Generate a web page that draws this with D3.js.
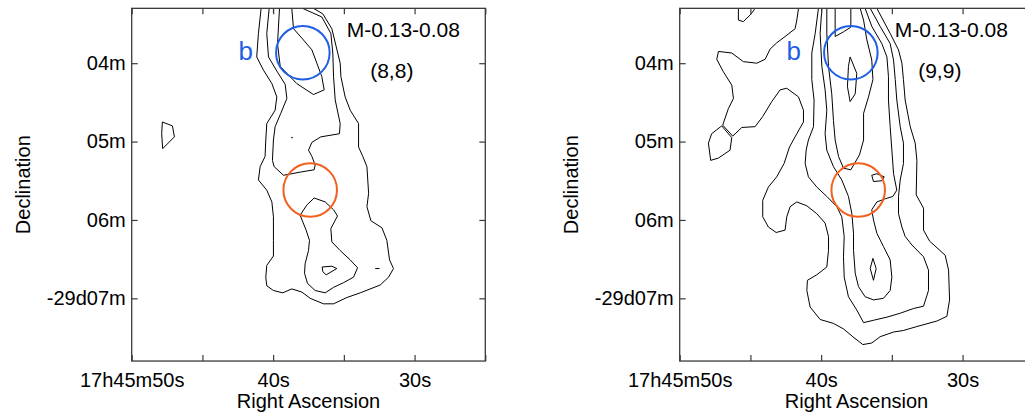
<!DOCTYPE html>
<html>
<head>
<meta charset="utf-8">
<script src="https://cdn.jsdelivr.net/npm/d3@7"></script>
<style>
  html, body { margin: 0; padding: 0; background: #fff; }
  svg { display: block; font-family: "Liberation Sans", Arial, Helvetica, sans-serif; }
</style>
</head>
<body>
<svg id="chart" width="1025" height="417"></svg>
<script>
// Axis ticks: right ascension seconds (17h45m..s) and declination minutes (-29d..m)
const raTicks = [50, 45, 40, 35, 30, 25];
const raTickLabels = {50: "17h45m50s", 40: "40s", 30: "30s"};
const decTicks = [4, 5, 6, 7];
const decTickLabels = {4: "04m", 5: "05m", 6: "06m", 7: "-29d07m"};
const raDomain = [50, 25];
const decDomain = [3.3, 7.8];

// Panel titles
const sourceName = "M-0.13-0.08";
const panelTags = ["(8,8)", "(9,9)"];

// Apertures: [RA s, Dec min], radius in arcsec
const apertureB = [37.9, 3.866];
const apertureLow = [37.38, 5.619];
const apertureRadius = 20.5;
const labelB = [42.45, 3.96];

// ---- Contours, left panel (8,8): [RA s, Dec min] ----
const left8Outer = [[40.85,3.30],[41.04,3.62],[41.16,3.92],[40.68,4.09],[40.09,4.26],[39.74,4.43],[39.86,4.60],[40.45,4.77],[40.52,4.98],[40.57,5.19],[40.92,5.32],[41.04,5.49],[40.45,5.62],[40.09,5.77],[39.98,5.96],[39.98,6.26],[39.98,6.46],[40.45,6.58],[40.52,6.73],[40.45,6.84],[39.98,6.90],[39.32,6.93],[38.68,6.88],[37.97,6.92],[37.38,7.00],[36.44,7.07],[35.73,7.07],[34.79,6.99],[33.84,6.93],[32.43,6.83],[31.84,6.73],[31.49,6.62],[31.77,6.51],[31.96,6.26],[32.31,6.10],[33.09,6.01],[33.37,5.83],[33.25,5.66],[33.37,5.32],[33.66,5.19],[33.96,5.07],[33.96,4.77],[34.55,4.60],[34.91,4.43],[35.21,4.17],[35.26,4.00],[35.54,3.79],[35.85,3.56],[36.49,3.37],[37.15,3.30]];
const left8Middle = [[40.28,3.30],[40.45,3.62],[40.33,3.92],[39.74,4.10],[39.15,4.27],[39.03,4.45],[39.46,4.64],[39.86,4.81],[39.98,4.98],[40.05,5.24],[39.93,5.32],[39.27,5.43],[38.09,5.39],[37.10,5.36],[37.03,5.30],[37.26,5.19],[37.50,5.11],[37.26,5.01],[36.63,4.94],[35.31,4.90],[35.26,4.77],[35.61,4.47],[35.73,4.17],[35.78,3.87],[35.92,3.62],[36.56,3.41],[37.92,3.30]];
const left8Inner = [[39.55,3.30],[39.69,3.75],[39.50,4.04],[38.33,4.26],[37.15,4.40],[36.39,4.34],[36.56,4.17],[36.91,4.00],[37.26,3.83],[37.97,3.68],[38.56,3.56],[38.68,3.30]];
const left8Low = [[38.09,5.94],[37.62,5.81],[37.10,5.72],[36.32,5.77],[35.73,5.87],[35.45,5.95],[35.92,6.11],[35.85,6.28],[35.26,6.39],[34.55,6.51],[34.03,6.61],[34.32,6.73],[35.02,6.80],[35.73,6.86],[36.32,6.93],[37.03,6.90],[37.57,6.81],[37.78,6.68],[37.74,6.56],[37.50,6.39],[37.43,6.26],[37.67,6.13]];
const left8Peak = [[36.53,6.60],[35.85,6.59],[35.50,6.62],[36.25,6.70],[36.49,6.66]];
const left8Dash = [[32.78,6.62],[32.48,6.62]];
const left8Dot = [[38.73,4.95],[38.61,4.95]];
const left8Edge = [[39.98,3.30],[39.98,3.36]];
const left8West = [[47.83,4.75],[47.12,4.80],[46.98,4.94],[47.81,5.09],[47.88,4.90]];

// ---- Contours, right panel (9,9): [RA s, Dec min] ----
const right9Corner = [[45.85,3.30],[45.85,3.45],[45.50,3.47],[45.02,3.385],[44.74,3.32],[44.72,3.30]];
const right9Outer = [[41.60,3.30],[41.72,3.45],[41.84,3.56],[42.55,3.66],[43.14,3.74],[43.61,3.82],[43.96,3.95],[44.55,4.00],[45.50,3.98],[46.32,3.87],[47.26,3.85],[47.38,3.95],[46.91,4.11],[46.32,4.28],[46.20,4.45],[46.56,4.58],[46.96,4.79],[46.25,4.93],[45.61,4.82],[44.67,4.81],[44.13,4.68],[43.49,4.49],[42.90,4.34],[42.43,4.32],[41.60,4.43],[41.25,4.60],[41.25,4.75],[41.72,4.90],[42.24,5.07],[42.62,5.28],[43.14,5.45],[43.73,5.58],[44.13,5.75],[44.13,5.96],[43.73,6.09],[43.18,6.16],[42.55,6.13],[42.43,5.96],[42.19,5.83],[41.72,5.77],[41.01,5.82],[40.31,5.92],[39.72,6.04],[39.48,6.21],[39.48,6.39],[39.60,6.60],[40.31,6.70],[40.97,6.77],[41.01,6.90],[40.78,7.11],[40.07,7.27],[39.13,7.32],[38.42,7.39],[37.76,7.49],[37.05,7.59],[36.42,7.57],[35.83,7.49],[34.88,7.43],[34.18,7.41],[33.23,7.36],[31.82,7.29],[31.11,7.23],[30.92,7.02],[30.99,6.64],[31.23,6.45],[32.33,6.27],[32.76,6.13],[32.76,5.85],[33.28,5.68],[33.23,5.24],[33.35,5.02],[33.70,4.81],[34.06,4.47],[34.18,4.21],[34.29,4.00],[34.53,3.83],[35.12,3.62],[36.06,3.30]];
const right9West = [[47.03,4.80],[47.74,4.90],[47.97,5.02],[47.81,5.24],[47.26,5.21],[46.44,5.11],[46.32,4.95]];
const right9Second = [[40.19,3.30],[40.42,3.62],[40.66,3.87],[40.66,4.21],[40.50,4.47],[40.54,4.81],[40.90,4.98],[41.06,5.11],[41.13,5.28],[40.90,5.45],[40.31,5.58],[39.60,5.70],[38.89,5.83],[38.54,5.96],[38.37,6.21],[38.42,6.47],[38.37,6.73],[38.07,6.98],[37.48,7.15],[37.00,7.31],[36.30,7.28],[35.35,7.24],[34.41,7.19],[33.47,7.13],[32.76,7.10],[32.41,6.90],[32.41,6.64],[32.76,6.47],[33.58,6.32],[34.06,6.21],[34.29,6.09],[34.53,5.92],[34.53,5.70],[34.41,5.49],[34.18,5.28],[34.18,5.02],[34.41,4.81],[34.65,4.47],[34.76,4.21],[34.88,3.96],[35.12,3.75],[35.83,3.53],[36.53,3.30]];
const right9Third = [[39.95,3.30],[40.07,3.62],[39.95,4.04],[39.72,4.34],[39.60,4.60],[39.72,4.90],[39.60,5.11],[39.13,5.32],[38.54,5.49],[38.07,5.70],[37.83,5.92],[37.71,6.17],[37.71,6.39],[37.59,6.68],[37.36,6.85],[36.89,6.98],[36.30,7.02],[35.59,7.00],[35.12,6.90],[35.00,6.73],[35.12,6.51],[35.59,6.34],[36.06,6.17],[36.30,6.00],[36.42,5.87],[36.06,5.77],[35.47,5.73],[34.93,5.70],[34.65,5.62],[34.88,5.41],[35.00,5.11],[35.12,4.81],[35.24,4.47],[35.24,4.17],[35.35,3.92],[35.71,3.75],[36.42,3.53],[36.89,3.30]];
const right9Fourth = [[39.60,3.30],[39.60,3.62],[39.48,4.04],[39.25,4.39],[39.13,4.73],[39.01,4.98],[38.77,5.19],[38.42,5.34],[37.90,5.36],[37.29,5.17],[37.00,4.98],[37.00,4.64],[36.65,4.43],[36.34,4.21],[36.42,3.96],[36.77,3.70],[37.00,3.45],[37.24,3.30]];
const right9Fifth = [[39.01,3.30],[39.01,3.66],[38.42,3.60],[37.90,3.54],[37.90,3.30]];
const right9PeakB = [[37.95,3.92],[37.48,4.13],[37.59,4.39],[37.95,4.49],[38.14,4.30],[38.07,4.04]];
const right9PeakLow = [[36.34,6.49],[36.11,6.62],[36.30,6.77],[36.53,6.62]];
const right9Knot = [[36.42,5.43],[36.06,5.41],[35.54,5.45],[35.71,5.50],[36.30,5.51]];

const panels = [
  {
    x0: 131.7, tag: panelTags[0],
    open: [left8Outer, left8Middle, left8Inner, left8Dash, left8Dot, left8Edge],
    closed: [left8Low, left8Peak, left8West]
  },
  {
    x0: 679.7, tag: panelTags[1],
    open: [right9Corner, right9Outer, right9Second, right9Third, right9Fourth, right9Fifth],
    closed: [right9West, right9PeakB, right9PeakLow, right9Knot]
  }
];

const W = 353.6, H = 352.7, panelTop = 8.33;
const blue = "#1f5fe6", orange = "#f2601c", frameColor = "#3a3a3a";

const svg = d3.select("#chart");
const x = d3.scaleLinear().domain(raDomain).range([0, W]);
const y = d3.scaleLinear().domain(decDomain).range([0, H]);
const pxPerArcsec = (y(decDomain[0] + 1) - y(decDomain[0])) / 60;

const lineOpen = d3.line().x(d => x(d[0])).y(d => y(d[1])).curve(d3.curveLinear);
const lineClosed = d3.line().x(d => x(d[0])).y(d => y(d[1])).curve(d3.curveLinearClosed);

panels.forEach((p, i) => {
  const g = svg.append("g").attr("transform", `translate(${p.x0},${panelTop})`);
  const clipId = "clip" + i;
  g.append("clipPath").attr("id", clipId)
    .append("rect").attr("width", W).attr("height", H);

  const plot = g.append("g").attr("clip-path", `url(#${clipId})`);

  plot.selectAll("path.open").data(p.open).join("path")
    .attr("class", "open")
    .attr("d", lineOpen)
    .attr("fill", "none").attr("stroke", "#000").attr("stroke-width", 1)
    .attr("stroke-linejoin", "round");
  plot.selectAll("path.closed").data(p.closed).join("path")
    .attr("class", "closed")
    .attr("d", lineClosed)
    .attr("fill", "none").attr("stroke", "#000").attr("stroke-width", 1)
    .attr("stroke-linejoin", "round");

  // Apertures
  plot.append("circle")
    .attr("cx", x(apertureB[0])).attr("cy", y(apertureB[1]))
    .attr("r", apertureRadius * pxPerArcsec)
    .attr("fill", "none").attr("stroke", blue).attr("stroke-width", 2);
  plot.append("circle")
    .attr("cx", x(apertureLow[0])).attr("cy", y(apertureLow[1]))
    .attr("r", apertureRadius * pxPerArcsec)
    .attr("fill", "none").attr("stroke", orange).attr("stroke-width", 2);

  g.append("text")
    .attr("x", x(labelB[0])).attr("y", y(labelB[1]))
    .attr("fill", blue).attr("font-size", 26)
    .text("b");

  // Axes with inward ticks
  const axB = d3.axisBottom(x).tickValues(raTicks).tickSize(-6).tickPadding(12)
    .tickFormat(d => raTickLabels[d] || "");
  const axT = d3.axisTop(x).tickValues(raTicks).tickSize(-6).tickFormat("");
  const axL = d3.axisLeft(y).tickValues(decTicks).tickSize(-6).tickPadding(6)
    .tickFormat(d => decTickLabels[d]);
  const axR = d3.axisRight(y).tickValues(decTicks).tickSize(-6).tickFormat("");

  const styleAxis = sel => {
    sel.select(".domain").remove();
    sel.selectAll(".tick line").attr("stroke", frameColor).attr("stroke-width", 1.2);
    sel.selectAll(".tick text").attr("fill", "#000").attr("font-size", 20)
      .attr("font-family", '"Liberation Sans", Arial, sans-serif');
  };
  g.append("g").attr("transform", `translate(0,${H})`).call(axB).call(styleAxis);
  g.append("g").call(axT).call(styleAxis);
  g.append("g").call(axL).call(styleAxis);
  g.append("g").attr("transform", `translate(${W},0)`).call(axR).call(styleAxis);

  g.append("rect").attr("width", W).attr("height", H)
    .attr("fill", "none").attr("stroke", frameColor).attr("stroke-width", 1.3);

  // Titles
  g.append("text").attr("x", 215).attr("y", 28.4)
    .attr("font-size", 21).attr("fill", "#000").text(sourceName);
  g.append("text").attr("x", 238.5).attr("y", 70)
    .attr("font-size", 21).attr("fill", "#000").text(p.tag);

  // Axis titles
  g.append("text").attr("x", W / 2).attr("y", 399.4)
    .attr("text-anchor", "middle").attr("font-size", 20).attr("fill", "#000")
    .text("Right Ascension");
  g.append("text")
    .attr("transform", `translate(-101.7,${H / 2}) rotate(-90)`)
    .attr("text-anchor", "middle").attr("font-size", 20).attr("fill", "#000")
    .text("Declination");
});
</script>
</body>
</html>
